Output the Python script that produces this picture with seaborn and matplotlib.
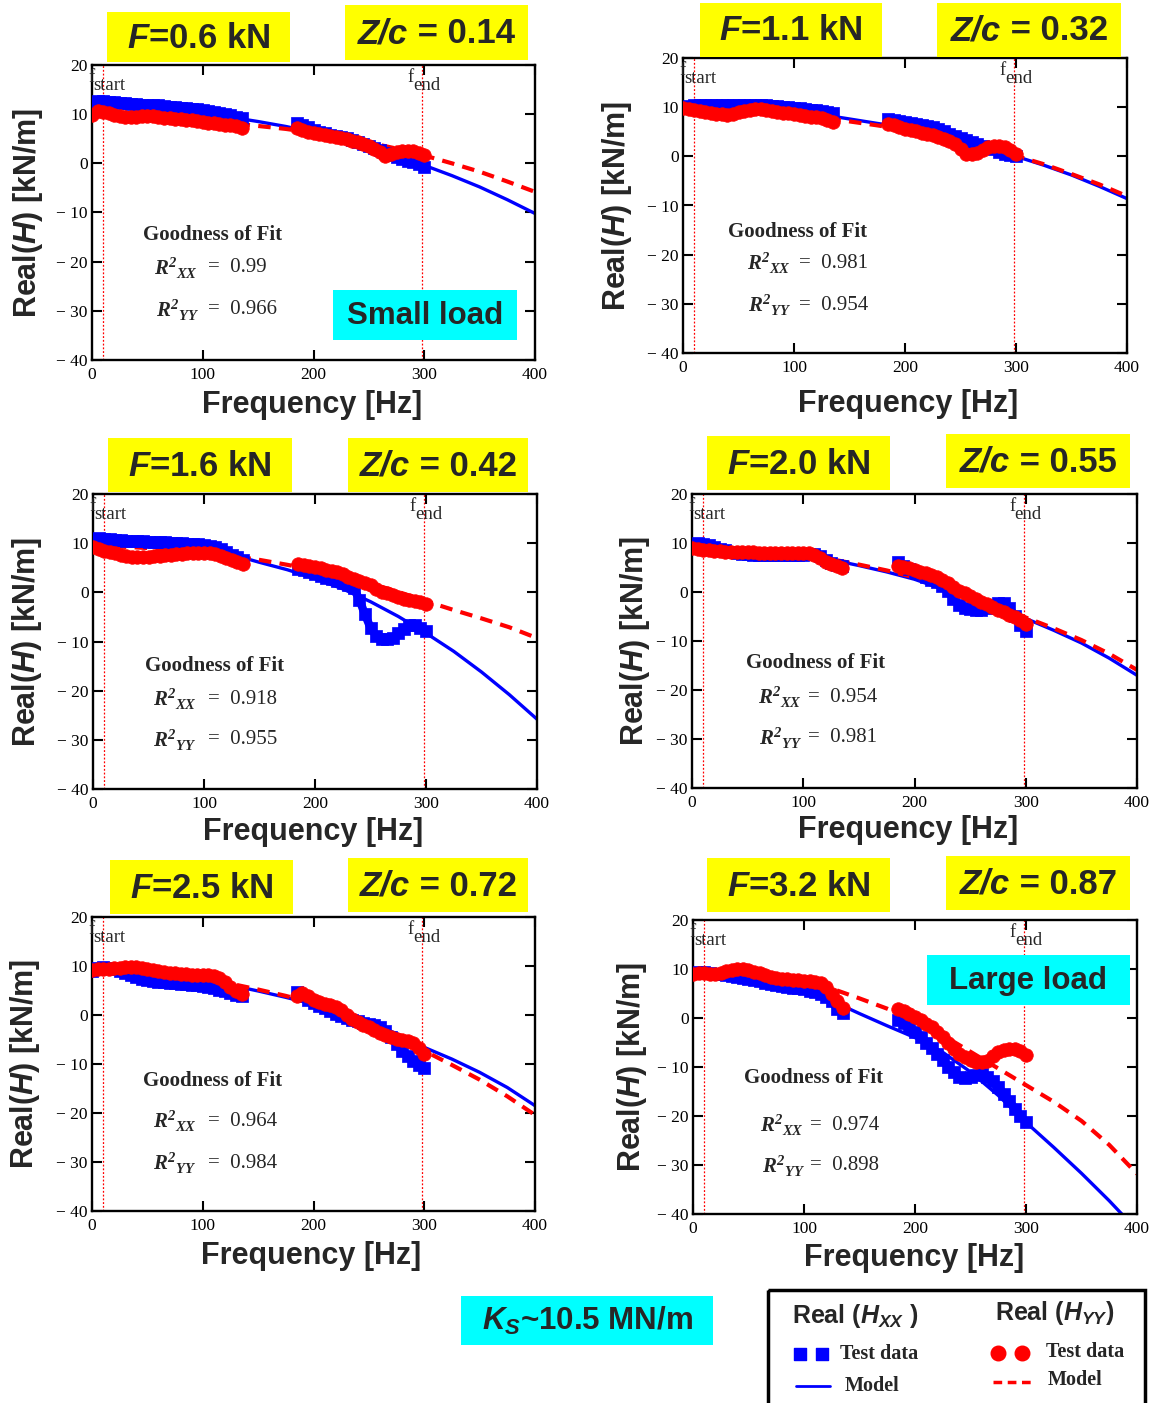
import matplotlib
matplotlib.use("Agg")
import numpy as np
import pandas as pd
import matplotlib.pyplot as plt
import seaborn as sns
from matplotlib.patches import Rectangle

W, H = 1161, 1403

# ---------------- data ----------------
freq_lo = list(range(0, 136, 5))
freq_hi = list(range(185, 301, 5))
freq_test = freq_lo + freq_hi
segment = ["low"] * len(freq_lo) + ["high"] * len(freq_hi)
freq_model = list(range(0, 401, 25))
f_start, f_end = 10, 298

x_ticks = [0, 100, 200, 300, 400]
x_tick_labels = ["0", "100", "200", "300", "400"]
y_ticks = [20, 10, 0, -10, -20, -30, -40]
y_tick_labels = ["20", "10", "0", "\u2212 10", "\u2212 20", "\u2212 30", "\u2212 40"]

force_labels = ["0.6", "1.1", "1.6", "2.0", "2.5", "3.2"]
zc_labels = ["0.14", "0.32", "0.42", "0.55", "0.72", "0.87"]
r2_xx = ["0.99", "0.981", "0.918", "0.954", "0.964", "0.974"]
r2_yy = ["0.966", "0.954", "0.955", "0.981", "0.984", "0.898"]

p1_xx_test = [12.2, 12.6, 12.6, 12.5, 12.4, 12.3, 12.2, 12.1, 12.0, 11.9, 11.8, 11.9, 11.9, 11.6,
              11.5, 11.4, 11.3, 11.2, 11.1, 11.0, 10.9, 10.7, 10.5, 10.3, 10.0, 9.8, 9.5, 9.2,
              8.2, 7.8, 7.3, 6.8, 6.4, 6.1, 5.8, 5.6, 5.3, 5.1, 4.8, 4.4, 4.0, 3.5, 3.1, 2.7,
              2.2, 1.7, 1.2, 0.8, 0.5, 0.3, -0.2, -0.7]
p1_yy_test = [9.9, 10.6, 10.5, 10.2, 9.9, 9.7, 9.5, 9.5, 9.5, 9.6, 9.7, 9.6, 9.5, 9.3, 9.2, 9.1,
              9.0, 8.9, 8.8, 8.6, 8.5, 8.3, 8.2, 8.0, 7.8, 7.7, 7.5, 7.2,
              7.1, 6.8, 6.4, 6.1, 5.9, 5.8, 5.6, 5.4, 5.1, 4.9, 4.6, 4.4, 4.0, 3.5, 3.0, 2.4,
              1.5, 1.9, 2.3, 2.6, 2.6, 2.6, 2.2, 1.7]
p1_xx_model = [11.9, 11.6, 11.2, 10.7, 10.1, 9.4, 8.5, 7.5, 6.3, 4.9, 3.4, 1.6, -0.4, -2.5, -4.8, -7.4, -10.2]
p1_yy_model = [9.9, 9.7, 9.4, 9.1, 8.7, 8.2, 7.6, 7.0, 6.2, 5.3, 4.2, 3.0, 1.6, 0.0, -1.7, -3.7, -5.8]

p2_xx_test = [10.0, 10.3, 10.4, 10.4, 10.4, 10.4, 10.4, 10.4, 10.5, 10.5, 10.5, 10.5, 10.5, 10.5,
              10.5, 10.4, 10.3, 10.2, 10.1, 10.0, 9.9, 9.8, 9.7, 9.5, 9.4, 9.2, 9.0, 8.8,
              7.6, 7.3, 7.1, 6.9, 6.7, 6.5, 6.3, 6.1, 5.9, 5.5, 5.1, 4.6, 4.2, 3.8, 3.3, 2.9,
              2.5, 2.1, 1.8, 1.4, 0.9, 0.5, 0.3, 0.1]
p2_yy_test = [9.9, 9.7, 9.4, 9.2, 9.0, 8.8, 8.7, 8.6, 8.5, 8.7, 9.0, 9.3, 9.5, 9.6, 9.6, 9.5,
              9.3, 9.1, 8.9, 8.8, 8.6, 8.4, 8.3, 8.1, 8.0, 7.7, 7.4, 7.0,
              6.6, 6.3, 6.0, 5.6, 5.4, 5.1, 4.8, 4.6, 4.3, 3.9, 3.5, 3.2, 2.5, 1.4, 0.5, 0.4,
              0.7, 1.3, 1.8, 2.1, 2.1, 1.8, 1.2, 0.5]
p2_xx_model = [10.3, 10.2, 10.0, 9.7, 9.2, 8.5, 7.6, 6.7, 5.8, 4.7, 3.5, 1.9, 0.0, -1.8, -3.8, -6.1, -8.6]
p2_yy_model = [9.8, 9.6, 9.3, 9.0, 8.5, 7.9, 7.1, 6.3, 5.4, 4.4, 3.2, 1.7, 0.1, -1.6, -3.6, -5.7, -8.1]

p3_xx_test = [10.9, 11.0, 10.9, 10.8, 10.7, 10.6, 10.5, 10.5, 10.4, 10.4, 10.3, 10.3, 10.2, 10.2,
              10.1, 10.1, 10.0, 9.9, 9.9, 9.8, 9.7, 9.5, 9.2, 8.8, 8.2, 7.6, 7.1, 6.6,
              4.8, 4.5, 4.1, 3.7, 3.4, 3.0, 2.7, 2.4, 2.0, 1.5, 0.8, -1.5, -4.5, -7.2, -8.8, -9.4,
              -9.5, -9.2, -8.3, -7.4, -6.7, -6.7, -7.2, -7.8]
p3_yy_test = [9.2, 8.9, 8.5, 8.2, 7.9, 7.6, 7.3, 7.2, 7.1, 7.1, 7.2, 7.3, 7.4, 7.5, 7.6, 7.7,
              7.8, 7.9, 8.0, 8.0, 8.0, 7.9, 7.7, 7.4, 7.0, 6.6, 6.2, 5.8,
              5.8, 5.6, 5.3, 5.1, 4.9, 4.6, 4.4, 4.1, 3.7, 3.2, 2.8, 2.4, 1.9, 1.4, 0.7, 0.1,
              -0.2, -0.6, -1.0, -1.3, -1.5, -1.7, -2.0, -2.4]
p3_xx_model = [10.9, 10.7, 10.3, 9.7, 8.9, 7.7, 6.1, 4.6, 2.8, 0.7, -1.9, -4.9, -8.3, -12.0, -16.2, -20.8, -25.8]
p3_yy_model = [9.4, 9.3, 9.0, 8.6, 8.1, 7.4, 6.6, 5.6, 4.5, 3.2, 1.8, 0.1, -1.8, -3.6, -5.3, -7.1, -9.3]

p4_xx_test = [9.3, 9.9, 9.8, 9.5, 9.1, 8.8, 8.5, 8.2, 8.0, 7.8, 7.7, 7.6, 7.6, 7.6, 7.6, 7.6,
              7.6, 7.6, 7.6, 7.6, 7.6, 7.7, 7.7, 7.3, 6.6, 6.0, 5.6, 5.3,
              6.1, 5.4, 4.7, 4.1, 3.6, 3.0, 2.5, 2.0, 1.3, 0.2, -1.4, -2.6, -3.2, -3.5, -3.7, -3.7,
              -3.2, -2.6, -2.3, -2.3, -3.2, -4.8, -6.8, -8.0]
p4_yy_test = [8.9, 8.8, 8.6, 8.5, 8.4, 8.3, 8.2, 8.2, 8.1, 8.1, 8.1, 8.1, 8.0, 8.0, 8.0, 8.0,
              8.0, 8.0, 8.0, 8.0, 8.0, 7.9, 7.6, 6.9, 6.2, 5.7, 5.3, 4.9,
              5.4, 5.2, 4.8, 4.4, 4.1, 3.8, 3.4, 3.1, 2.5, 1.8, 1.0, 0.3, -0.3, -0.9, -1.5, -2.0,
              -2.5, -3.0, -3.6, -4.1, -4.6, -5.1, -5.8, -6.6]
p4_xx_model = [9.2, 9.0, 8.7, 8.2, 7.6, 6.6, 5.4, 4.1, 2.6, 0.6, -1.2, -3.2, -5.4, -7.8, -10.4, -13.5, -17.0]
p4_yy_model = [9.0, 8.9, 8.6, 8.2, 7.6, 6.7, 5.6, 4.4, 3.0, 1.2, -0.8, -2.9, -5.2, -7.4, -9.8, -12.6, -15.9]

p5_xx_test = [9.0, 9.6, 9.7, 9.6, 9.4, 9.0, 8.6, 8.2, 7.8, 7.4, 7.1, 6.9, 6.8, 6.7, 6.6, 6.5,
              6.4, 6.3, 6.2, 6.1, 6.0, 5.8, 5.5, 5.2, 4.8, 4.4, 4.1, 3.8,
              4.6, 3.8, 3.1, 2.4, 1.9, 1.4, 0.8, 0.3, -0.2, -0.7, -1.0, -1.3, -1.6, -1.8, -2.0, -2.4,
              -3.2, -4.5, -6.0, -7.3, -8.4, -9.4, -10.2, -10.9]
p5_yy_test = [9.2, 9.4, 9.4, 9.4, 9.5, 9.6, 9.7, 9.8, 9.7, 9.5, 9.3, 9.1, 8.9, 8.7, 8.6, 8.5,
              8.4, 8.3, 8.2, 8.2, 8.2, 8.1, 8.0, 7.6, 6.8, 5.8, 4.9, 4.2,
              3.8, 4.4, 3.9, 3.1, 2.7, 2.3, 2.0, 1.7, 1.0, 0.0, -0.9, -1.5, -2.0, -2.4, -3.0, -3.6,
              -4.1, -4.5, -4.8, -5.1, -5.4, -5.8, -6.8, -8.0]
p5_xx_model = [8.6, 8.5, 8.2, 7.7, 7.1, 6.1, 4.9, 3.6, 2.2, 0.6, -1.4, -3.8, -6.6, -9.0, -11.7, -14.8, -18.5]
p5_yy_model = [9.0, 8.9, 8.6, 8.1, 7.4, 6.4, 5.2, 3.9, 2.4, 0.7, -1.4, -4.2, -7.3, -10.2, -13.2, -16.6, -20.4]

p6_xx_test = [9.1, 9.3, 9.3, 9.2, 9.0, 8.9, 8.7, 8.5, 8.3, 8.2, 8.0, 7.7, 7.5, 7.2, 7.0, 6.8,
              6.6, 6.4, 6.2, 6.1, 5.9, 5.6, 5.3, 4.9, 4.2, 3.4, 1.8, 1.1,
              -0.4, -1.0, -1.9, -2.9, -3.9, -5.0, -6.1, -7.3, -8.6, -10.0, -11.1, -12.0, -12.3, -12.0,
              -11.6, -11.5, -12.0, -12.8, -14.0, -15.5, -17.0, -18.5, -20.0, -21.3]
p6_yy_test = [9.0, 9.1, 9.1, 9.0, 9.0, 9.2, 9.5, 9.8, 10.0, 9.9, 9.7, 9.4, 9.1, 8.7, 8.4, 8.2,
              8.0, 7.9, 7.8, 7.7, 7.6, 7.5, 7.4, 7.2, 6.3, 5.0, 3.5, 2.0,
              1.9, 1.5, 0.8, 0.2, -0.5, -1.2, -1.9, -2.8, -3.9, -5.1, -6.3, -7.3, -8.0, -8.6, -9.0, -9.0,
              -8.7, -7.8, -7.0, -6.5, -6.3, -6.4, -6.7, -7.6]
p6_xx_model = [8.8, 8.6, 8.0, 7.0, 5.6, 3.5, 0.9, -1.6, -4.0, -7.0, -11.0, -15.8, -21.3, -26.4, -31.7, -37.3, -43.3]
p6_yy_model = [9.4, 9.3, 9.0, 8.4, 7.5, 6.0, 4.0, 1.9, -0.6, -3.5, -6.9, -10.3, -13.7, -17.1, -21.0, -25.9, -31.8]

xx_tests = [p1_xx_test, p2_xx_test, p3_xx_test, p4_xx_test, p5_xx_test, p6_xx_test]
yy_tests = [p1_yy_test, p2_yy_test, p3_yy_test, p4_yy_test, p5_yy_test, p6_yy_test]
xx_models = [p1_xx_model, p2_xx_model, p3_xx_model, p4_xx_model, p5_xx_model, p6_xx_model]
yy_models = [p1_yy_model, p2_yy_model, p3_yy_model, p4_yy_model, p5_yy_model, p6_yy_model]

# ---------------- layout (pixels) ----------------
ax_boxes = [(92, 65, 535, 360), (683, 58, 1127, 353),
            (93, 494, 537, 789), (692, 494, 1137, 788),
            (92, 917, 535, 1211), (693, 920, 1137, 1214)]
f_boxes = [(107, 12, 290, 62), (700, 3, 882, 57), (108, 438, 292, 492),
           (707, 436, 890, 490), (110, 860, 293, 914), (707, 858, 890, 912)]
z_boxes = [(345, 5, 528, 60), (937, 3, 1121, 57), (348, 438, 528, 492),
           (946, 434, 1130, 488), (348, 858, 528, 912), (946, 856, 1130, 910)]
gof_pos = [(143, 235, 154, 268, 156, 310, 208), (728, 232, 747, 263, 748, 305, 799),
           (145, 666, 153, 699, 153, 740, 208), (746, 663, 758, 697, 759, 738, 808),
           (143, 1081, 153, 1121, 153, 1163, 208), (744, 1078, 760, 1125, 762, 1166, 810)]
ylab_x = [28, 617, 27, 635, 25, 632]
xlab_pos = [(312, 405), (908, 404), (313, 832), (908, 830), (311, 1256), (914, 1258)]

# ---------------- style ----------------
sns.set_theme(style="ticks")
plt.rcParams.update({
    "font.family": ["Liberation Serif", "DejaVu Sans"],
    "mathtext.fontset": "custom",
    "mathtext.it": "Liberation Sans:italic:bold",
    "mathtext.rm": "Liberation Sans:bold",
    "mathtext.bf": "Liberation Serif:italic:bold",
    "axes.facecolor": "white",
    "figure.facecolor": "white",
})

fig = plt.figure(figsize=(W / 100, H / 100), dpi=100)

BLUE, RED = "#0000ff", "#ff0000"
SANS = "Liberation Sans"
SERIF = "Liberation Serif"

for i in range(6):
    l, t, r, b = ax_boxes[i]
    ax = fig.add_axes([l / W, 1 - b / H, (r - l) / W, (b - t) / H])
    df_test = pd.DataFrame({"f": freq_test, "seg": segment,
                            "xx": xx_tests[i], "yy": yy_tests[i]})
    df_model = pd.DataFrame({"f": freq_model, "xx": xx_models[i], "yy": yy_models[i]})

    sns.lineplot(data=df_model, x="f", y="xx", color=BLUE, lw=2.4, ax=ax, zorder=2)
    sns.lineplot(data=df_model, x="f", y="yy", color=RED, lw=3.0, ax=ax, zorder=2)
    ax.lines[-1].set_linestyle((0, (3, 2)))
    # dense test-data bands: thick trace + markers
    sns.lineplot(data=df_test, x="f", y="xx", units="seg", estimator=None, color=BLUE,
                 lw=6, ax=ax, zorder=3)
    sns.scatterplot(data=df_test, x="f", y="xx", marker="s", s=75, color=BLUE,
                    edgecolor=BLUE, linewidth=0.5, ax=ax, zorder=3)
    sns.lineplot(data=df_test, x="f", y="yy", units="seg", estimator=None, color=RED,
                 lw=7, ax=ax, zorder=4)
    sns.scatterplot(data=df_test, x="f", y="yy", marker="o", s=95, color=RED,
                    edgecolor=RED, linewidth=0.5, ax=ax, zorder=4)
    for fv in (f_start, f_end):
        ax.axvline(fv, color=RED, lw=0.9, ls=(0, (1.5, 1.5)), zorder=1)

    ax.set_xlim(0, 400)
    ax.set_ylim(-40, 20)
    ax.set_xticks(x_ticks)
    ax.set_xticklabels(x_tick_labels)
    ax.set_yticks(y_ticks)
    ax.set_yticklabels(y_tick_labels)
    ax.set_xlabel("")
    ax.set_ylabel("")
    ax.tick_params(direction="in", top=True, right=True, length=7, width=1.5,
                   labelsize=12.5, color="black", labelcolor="black")
    ax.tick_params(axis="x", pad=5)
    ax.tick_params(axis="y", pad=3)
    for sp in ax.spines.values():
        sp.set_visible(True)
        sp.set_linewidth(1.7)
        sp.set_color("black")

    ax.text(-3.5, 17.4, "f", fontsize=13.5, family=SERIF, ha="left", va="center", clip_on=False)
    ax.text(1.5, 15.9, "start", fontsize=13.5, family=SERIF, ha="left", va="center", clip_on=False)
    ax.text(285, 17.4, "f", fontsize=13.5, family=SERIF, ha="left", va="center", clip_on=False)
    ax.text(290, 15.9, "end", fontsize=13.5, family=SERIF, ha="left", va="center", clip_on=False)

# ---------------- overlay for annotations ----------------
ov = fig.add_axes([0, 0, 1, 1], zorder=10)
ov.set_xlim(0, W)
ov.set_ylim(H, 0)
ov.axis("off")
ov.patch.set_alpha(0)


def box(l, t, r, b, color):
    ov.add_patch(Rectangle((l, t), r - l, b - t, facecolor=color, edgecolor="none"))


for i in range(6):
    l, t, r, b = f_boxes[i]
    box(l, t, r, b, "#ffff00")
    ov.text((l + r) / 2, (t + b) / 2 + 1, r"$\mathit{F}$=" + force_labels[i] + " kN",
            fontsize=25, weight="bold", family=SANS, ha="center", va="center")
    l, t, r, b = z_boxes[i]
    box(l, t, r, b, "#ffff00")
    split = (l + r) / 2 - 28
    ov.text(split, (t + b) / 2 + 1, "Z/c", fontsize=25, weight="bold", style="italic",
            family=SANS, ha="right", va="center")
    ov.text(split, (t + b) / 2 + 1, " = " + zc_labels[i], fontsize=25, weight="bold",
            family=SANS, ha="left", va="center")

    gx, gy, rx1, ry1, rx2, ry2, ex = gof_pos[i]
    ov.text(gx, gy, "Goodness of Fit", fontsize=15, weight="bold", family=SERIF,
            ha="left", va="center")
    ov.text(rx1, ry1, r"$\mathbf{R}^{\mathbf{2}}{}_{\mathbf{XX}}$", fontsize=15,
            ha="left", va="center")
    ov.text(ex, ry1, "=  " + r2_xx[i], fontsize=15, family=SERIF, ha="left", va="center")
    ov.text(rx2, ry2, r"$\mathbf{R}^{\mathbf{2}}{}_{\mathbf{YY}}$", fontsize=15,
            ha="left", va="center")
    ov.text(ex, ry2, "=  " + r2_yy[i], fontsize=15, family=SERIF, ha="left", va="center")

    l, t, r, b = ax_boxes[i]
    ov.text(ylab_x[i], (t + b) / 2, r"Real($\mathit{H}$) [kN/m]", rotation=90,
            fontsize=22, weight="bold", family=SANS, ha="center", va="center")
    ov.text(xlab_pos[i][0], xlab_pos[i][1], "Frequency [Hz]", fontsize=22,
            weight="bold", family=SANS, ha="center", va="center")

# load-level tags
box(333, 290, 517, 340, "#00ffff")
ov.text(425, 316, "Small load", fontsize=22.5, weight="bold", family=SANS, ha="center", va="center")
box(927, 955, 1130, 1005, "#00ffff")
ov.text(1028, 981, "Large load", fontsize=22.5, weight="bold", family=SANS, ha="center", va="center")

# stiffness tag
box(461, 1296, 713, 1345, "#00ffff")
ov.text(587, 1321, r"$\mathit{K}_{\mathit{S}}$~10.5 MN/m", fontsize=22.5, weight="bold",
        family=SANS, ha="center", va="center")

# legend box
ov.add_patch(Rectangle((768, 1290), 377, 130, fill=False, edgecolor="black", lw=2.5))
ov.text(855, 1316, r"Real ($\mathit{H}_{\mathit{XX}}$ )", fontsize=18, weight="bold",
        family=SANS, ha="center", va="center")
ov.text(1055, 1313, r"Real ($\mathit{H}_{\mathit{YY}}$)", fontsize=18, weight="bold",
        family=SANS, ha="center", va="center")
ov.scatter([800, 822], [1354, 1354], marker="s", s=65, color=BLUE)
ov.text(840, 1354, "Test data", fontsize=14.5, weight="bold", family=SERIF, ha="left", va="center")
ov.plot([796, 830], [1386, 1386], color=BLUE, lw=2)
ov.text(845, 1386, "Model", fontsize=14.5, weight="bold", family=SERIF, ha="left", va="center")
ov.scatter([998, 1022], [1353, 1353], marker="o", s=110, color=RED)
ov.text(1046, 1352, "Test data", fontsize=14.5, weight="bold", family=SERIF, ha="left", va="center")
ov.plot([993, 1033], [1382, 1382], color=RED, lw=2.5, ls=(0, (2.5, 1.6)))
ov.text(1048, 1380, "Model", fontsize=14.5, weight="bold", family=SERIF, ha="left", va="center")

fig.savefig("out.png", dpi=100)
